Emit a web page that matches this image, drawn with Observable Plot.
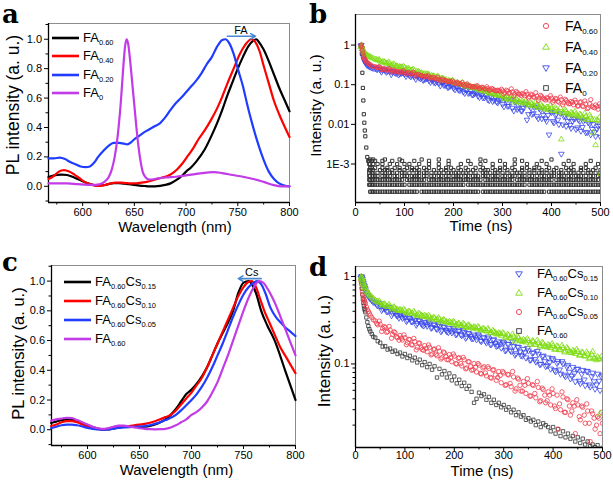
<!DOCTYPE html>
<html><head><meta charset="utf-8">
<script src="https://cdn.jsdelivr.net/npm/d3@7"></script>
<script src="https://cdn.jsdelivr.net/npm/@observablehq/plot@0.6"></script>
<style>
body{margin:0;background:#fff;}
#fig{position:relative;width:613px;height:486px;overflow:hidden;background:#fff;font-family:"Liberation Sans",Arial,sans-serif;color:#000;}
.letter{position:absolute;font-family:"DejaVu Serif",serif;font-weight:bold;font-size:26px;line-height:1.1;}
.item{position:absolute;height:20px;display:flex;align-items:center;white-space:nowrap;}
.lab{font-size:13px;line-height:20px;}
.lab sub{font-size:7.5px;vertical-align:-3px;line-height:0;}
.lab.big{font-size:14px;}
.lab.big sub{font-size:8px;}
.ylab{position:absolute;z-index:20;text-align:right;font-size:11px;line-height:14px;height:14px;white-space:nowrap;color:#000;}
.err{position:absolute;left:0;bottom:0;z-index:30;color:#c00;font-size:9px;}
</style></head>
<body><div id="fig"></div>
<script>
// ================= DATA =================
// Panel a: PL spectra, [wavelength (nm), normalized PL]
const aFA060 = [[567,.063],[575,.078],[580,.08],[585,.077],[590,.065],[595,.05],[600,.035],[605,.02],[610,.01],[615,.005],[620,.008],[625,.015],[630,.022],[635,.022],[640,.018],[645,.015],[650,.01],[655,.005],[660,.002],[665,0],[670,0],[675,.003],[680,.01],[685,.02],[690,.04],[695,.065],[700,.1],[705,.13],[710,.17],[718,.25],[725,.35],[730,.43],[735,.52],[740,.62],[745,.71],[750,.8],[755,.88],[760,.95],[765,.99],[768,1],[770,.985],[775,.93],[780,.85],[785,.76],[790,.67],[795,.59],[800,.51]];
const aFA040 = [[567,.05],[572,.07],[577,.1],[582,.11],[587,.1],[592,.08],[597,.055],[602,.03],[607,.015],[612,.005],[617,.003],[622,.01],[627,.02],[632,.025],[637,.025],[642,.022],[647,.02],[652,.02],[657,.025],[662,.03],[667,.04],[672,.05],[677,.06],[682,.07],[687,.09],[692,.12],[697,.16],[702,.21],[707,.26],[712,.32],[718,.38],[724,.45],[730,.53],[735,.61],[740,.7],[746,.8],[752,.9],[757,.96],[763,1],[767,.98],[771,.92],[775,.82],[780,.7],[785,.58],[790,.49],[795,.41],[800,.335]];
const aFA020 = [[567,.19],[572,.19],[578,.195],[583,.185],[588,.165],[593,.15],[598,.135],[603,.13],[607,.135],[611,.16],[615,.2],[620,.24],[625,.275],[630,.295],[635,.295],[640,.29],[643,.285],[647,.3],[650,.32],[655,.345],[660,.37],[665,.39],[670,.41],[675,.43],[680,.47],[685,.52],[690,.565],[695,.6],[700,.64],[705,.68],[710,.72],[715,.77],[720,.83],[725,.88],[730,.95],[735,.995],[738,1],[742,.97],[746,.9],[750,.8],[755,.68],[759,.56],[763,.45],[767,.35],[771,.26],[775,.18],[780,.1],[785,.05],[790,.02],[795,.006],[800,0]];
const aFA0 = [[567,.02],[575,.02],[585,.02],[595,.015],[605,.01],[612,.01],[617,.015],[621,.03],[625,.06],[628,.11],[631,.2],[634,.35],[637,.58],[639,.78],[641,.95],[642.5,1],[644,.97],[646,.85],[648,.7],[650,.55],[652,.4],[654,.27],[656,.17],[658,.1],[661,.06],[665,.045],[670,.05],[680,.06],[690,.065],[700,.075],[710,.085],[720,.093],[727,.097],[735,.09],[745,.077],[755,.065],[765,.05],[775,.03],[785,.008],[792,0],[800,0]];
const aShift = [{label:"FA", from:740, to:767, level:1.02, labelAt:753, labelLevel:1.037}];

// Panel c: PL spectra, [wavelength (nm), normalized PL]
const cCs015 = [[565,.045],[570,.055],[575,.065],[580,.07],[585,.068],[590,.06],[595,.045],[600,.03],[605,.018],[610,.008],[615,.003],[620,.002],[625,.008],[630,.015],[635,.02],[640,.02],[645,.02],[650,.018],[655,.02],[660,.025],[665,.035],[670,.05],[675,.07],[680,.1],[685,.14],[690,.19],[695,.24],[700,.27],[705,.31],[710,.36],[715,.42],[720,.5],[725,.58],[730,.65],[735,.72],[740,.8],[745,.92],[750,.99],[755,1],[758,.98],[762,.92],[767,.8],[773,.7],[780,.6],[790,.4],[800,.2]];
const cCs010 = [[565,.025],[570,.035],[575,.05],[580,.058],[585,.058],[590,.05],[595,.035],[600,.02],[605,.01],[610,.004],[615,.003],[620,.008],[625,.015],[630,.02],[635,.022],[640,.025],[645,.03],[650,.035],[655,.04],[660,.047],[665,.057],[670,.07],[675,.085],[680,.1],[685,.13],[690,.17],[695,.21],[700,.25],[705,.3],[710,.35],[715,.42],[720,.5],[725,.58],[730,.66],[735,.74],[740,.82],[745,.9],[750,.96],[755,.995],[758,1],[762,.96],[766,.88],[770,.8],[775,.72],[780,.64],[785,.56],[790,.5],[795,.44],[800,.38]];
const cCs005 = [[565,.01],[570,.02],[575,.03],[580,.035],[585,.035],[590,.03],[595,.022],[600,.013],[605,.006],[610,.002],[615,0],[620,.002],[625,.008],[630,.012],[635,.015],[640,.018],[645,.02],[650,.022],[655,.025],[660,.03],[665,.04],[670,.05],[675,.065],[680,.08],[685,.1],[690,.13],[695,.165],[700,.2],[705,.24],[710,.29],[715,.35],[720,.42],[725,.5],[730,.58],[735,.67],[740,.76],[745,.84],[750,.91],[755,.96],[760,.99],[763,1],[767,.98],[771,.92],[776,.82],[781,.76],[786,.72],[790,.69],[795,.66],[800,.63]];
const cFA060 = [[565,.06],[570,.07],[575,.075],[580,.08],[585,.078],[590,.065],[595,.05],[600,.035],[605,.02],[610,.01],[615,.006],[620,.01],[625,.02],[630,.028],[635,.028],[640,.022],[645,.015],[650,.01],[655,.006],[660,.004],[665,.003],[670,.004],[675,.006],[680,.015],[685,.03],[690,.05],[695,.07],[700,.1],[705,.12],[710,.15],[715,.19],[720,.25],[725,.32],[730,.41],[735,.5],[740,.6],[745,.7],[750,.8],[755,.89],[760,.96],[765,1],[769,.99],[773,.95],[777,.9],[781,.84],[785,.77],[790,.68],[795,.59],[800,.5]];
const cShift = [{label:"Cs", from:767, to:745, level:1.017, labelAt:758, labelLevel:1.037}];

// Panels b and d: time-resolved PL, time bins (ns)
const tBins = [11,12,13,14,15,16,17,18,19,20,
 22,24,26,28,30,33,36,
 40,45,50,55,60,65,70,75,80,85,90,95,100,
 105,110,115,120,125,130,135,140,145,150,
 155,160,165,170,175,180,185,190,195,200,
 205,210,215,220,225,230,235,240,245,250,
 255,260,265,270,275,280,285,290,295,300,
 305,310,315,320,325,330,335,340,345,350,
 355,360,365,370,375,380,385,390,395,400,
 405,410,415,420,425,430,435,440,445,450,
 455,460,465,470,475,480,485,490,495,500];
// second set of channels read between the first ones
const tBins2 = [43,48,53,58,63,68,73,78,83,88,
 93,98,103,108,113,118,123,128,133,138,
 143,148,153,158,163,168,173,178,183,188,
 193,198,203,208,213,218,223,228,233,238,
 243,248,253,258,263,268,273,278,283,288,
 293,298,303,308,313,318,323,328,333,338,
 343,348,353,358,363,368,373,378,383,388,
 393,398,403,408,413,418,423,428,433,438,
 443,448,453,458,463,468,473,478,483,488,
 493,498];

// Panel b intensities (a.u.) at tBins
const bFA060 = [.95,1,.88,.74,.63,.55,.5,.46,.43,.41,
 .38,.36,.345,.33,.32,.3,.29,
 .285,.27,.265,.25,.248,.24,.232,.228,.222,.218,.214,.205,.21,
 .2,.195,.19,.186,.18,.178,.17,.165,.163,.155,
 .152,.148,.14,.138,.133,.13,.124,.122,.118,.115,
 .11,.108,.104,.1,.099,.094,.092,.09,.086,.088,
 .082,.085,.078,.08,.074,.077,.07,.073,.068,.07,
 .064,.069,.062,.066,.058,.063,.057,.06,.053,.058,
 .05,.055,.048,.052,.046,.05,.043,.047,.041,.046,
 .04,.044,.036,.042,.035,.04,.033,.038,.031,.036,
 .029,.037,.028,.033,.026,.042,.027,.031,.024,.029];
const bFA040 = [.9,1,.95,.86,.78,.72,.68,.65,.62,.6,
 .57,.55,.53,.51,.5,.48,.46,
 .44,.415,.395,.38,.365,.35,.335,.32,.31,.295,.285,.275,.268,
 .255,.245,.235,.225,.215,.207,.198,.19,.185,.178,
 .17,.164,.156,.15,.144,.138,.133,.127,.122,.118,
 .112,.109,.103,.1,.095,.092,.087,.085,.08,.079,
 .074,.072,.068,.066,.062,.061,.057,.056,.052,.052,
 .048,.047,.044,.044,.04,.041,.037,.038,.034,.035,
 .031,.033,.029,.031,.027,.029,.025,.027,.023,.026,
 .022,.024,.021,.0042,.02,.021,.018,.02,.017,.018,
 .016,.017,.014,.016,.013,.015,.0062,.003,.012,.00056];
const bFA020 = [.95,1,.82,.68,.58,.5,.45,.41,.38,.36,
 .33,.31,.3,.29,.28,.27,.26,
 .255,.245,.24,.232,.228,.22,.215,.21,.2,.206,.19,.2,.185,
 .19,.17,.175,.158,.165,.148,.152,.136,.145,.128,
 .133,.115,.122,.108,.115,.098,.104,.087,.098,.082,
 .09,.074,.082,.066,.075,.061,.07,.056,.064,.052,
 .06,.047,.055,.042,.052,.038,.049,.035,.045,.032,
 .043,.029,.04,.026,.037,.024,.034,.022,.032,.013,
 .029,.018,.027,.016,.025,.014,.023,.012,.0055,.02,
 .011,.018,.01,.0018,.016,.009,.015,.008,.014,.0075,
 .013,.0068,.012,.0062,.011,.0055,.01,.005,.009,.0048];
// Panel b intensities at tBins2
const bFA060b = [.274,.286,.239,.258,.231,.259,.208,.235,.215,.202,
 .211,.224,.188,.205,.184,.206,.166,.186,.169,.157,
 .162,.17,.142,.155,.139,.155,.125,.14,.127,.118,
 .122,.126,.106,.114,.103,.114,.092,.104,.094,.087,
 .091,.095,.08,.087,.079,.089,.072,.081,.074,.07,
 .072,.077,.058,.073,.061,.079,.051,.068,.059,.053,
 .058,.067,.046,.058,.049,.063,.04,.054,.046,.041,
 .046,.053,.036,.045,.038,.049,.031,.043,.036,.033,
 .036,.041,.029,.036,.029,.039,.025,.033,.029,.026,
 .028,.033];
const bFA040b = [.425,.431,.363,.382,.342,.372,.301,.331,.296,.276,
 .279,.29,.244,.255,.228,.246,.199,.216,.193,.179,
 .18,.184,.157,.166,.15,.164,.132,.145,.13,.122,
 .124,.128,.108,.114,.103,.112,.091,.101,.09,.084,
 .085,.087,.072,.076,.068,.074,.06,.065,.059,.054,
 .055,.057,.044,.051,.042,.052,.036,.044,.037,.034,
 .036,.04,.03,.035,.029,.037,.026,.032,.027,.024,
 .027,.03,.022,.026,.021,.026,.019,.023,.019,.017,
 .019,.021,.016,.018,.015,.019,.013,.017,.013,.013,
 .013,.015];
const bFA020b = [.247,.271,.21,.244,.208,.251,.181,.221,.192,.177,
 .193,.212,.163,.188,.159,.19,.138,.166,.143,.13,
 .139,.15,.115,.131,.111,.131,.094,.113,.096,.086,
 .092,.099,.075,.085,.072,.085,.061,.073,.062,.056,
 .059,.064,.048,.055,.047,.055,.04,.048,.041,.037,
 .04,.043,.028,.04,.029,.043,.022,.036,.026,.022,
 .026,.033,.018,.026,.019,.028,.014,.023,.017,.014,
 .017,.021,.012,.017,.013,.019,.0098,.016,.012,.0096,
 .012,.014,.0083,.012,.0085,.013,.0063,.0104,.0076,.0064,
 .0077,.0098];
// FA0: fast head (first 13 bins), then photon-count floor rows (bins 13..109)
const bFA0head = [.9,1,.6,.2,.083,.04,.018,.011,.007,.005,.0026,.0015,.0012];
const bFA0floorLevels = [2e-4,3e-4,4e-4,5e-4,6e-4,7e-4,8e-4,1e-3,1.2e-3,1.3e-3];
const bFA0floorRows = [
 ["0111111111","1111111111","1101111111","1111111111","1111111011","1111111111","1111111111","1111011111","1111111111","1111111"],
 ["1111111111","1111111011","1111111111","1111111111","1011111111","1111111111","1111110111","1111111111","1111111111","1111111"],
 ["1111111111","1111110111","1111101111","1111111111","1111111101","1111111111","1011111111","1111111011","1111111111","1111110"],
 ["1101110111","1011011101","1110110110","1101101111","0110111011","1011101101","1101110110","1011011101","1101101110","1011011"],
 ["1011010110","1101011010","0110110101","1010110110","1101010011","0101101010","1011010101","0110101101","1010110101","0110101"],
 ["1101001011","0100101001","1010010010","0101001001","0010100101","1001010010","0100100101","0010100100","1001010010","0101001"],
 ["0110100101","0010100101","0100101000","1001010010","0100010010","0010010100","1000101001","0100010010","0010100010","1000100"],
 ["1101010100","1001001010","0010001000","1000100001","0001000100","0010000100","0100001000","1000100000","0100010000","1000010"],
 ["1010100100","0100010000","1000001000","0000100000","0010000001","0000010000","0000100000","0010000000","0001000000","0010000"],
 ["0101000010","0000100000","0001000000","1000000000","0000000100","0000000000","0100000000","0000001000","0000000000","0000000"]];

// Panel d intensities (a.u.) at tBins
const dCs015 = [.96,1,.97,.93,.88,.84,.8,.77,.74,.71,
 .66,.62,.6,.57,.56,.53,.51,
 .5,.465,.46,.43,.425,.4,.41,.38,.385,.355,.365,.335,.345,
 .318,.33,.305,.318,.292,.31,.28,.3,.272,.29,
 .262,.28,.25,.27,.243,.262,.235,.255,.228,.245,
 .22,.24,.212,.23,.205,.222,.196,.215,.19,.21,
 .182,.2,.175,.195,.168,.19,.16,.18,.153,.175,
 .145,.168,.14,.16,.132,.155,.125,.148,.118,.142,
 .112,.135,.106,.13,.1,.124,.094,.118,.088,.112,
 .082,.107,.077,.101,.072,.097,.068,.092,.063,.088,
 .06,.085,.057,.082,.055,.079,.052,.077,.05,.075];
const dCs010 = [.95,1,.96,.92,.87,.83,.8,.77,.75,.73,
 .69,.66,.64,.62,.6,.58,.56,
 .535,.51,.5,.48,.475,.455,.452,.435,.432,.418,.418,.402,.405,
 .39,.392,.378,.38,.365,.37,.352,.358,.342,.345,
 .332,.335,.32,.325,.31,.315,.3,.305,.29,.296,
 .282,.287,.274,.28,.266,.272,.258,.265,.25,.258,
 .244,.25,.236,.242,.228,.234,.22,.226,.211,.22,
 .205,.212,.198,.205,.191,.198,.184,.19,.177,.185,
 .172,.18,.167,.175,.162,.17,.158,.165,.153,.16,
 .148,.156,.144,.152,.14,.147,.135,.143,.131,.138,
 .127,.134,.122,.13,.118,.138,.114,.12,.027,.113];
const dCs005 = [.9,.82,.74,.67,.62,.58,.55,.53,.51,.49,
 .45,.42,.4,.38,.36,.34,.32,
 .31,.28,.285,.255,.262,.235,.245,.218,.228,.2,.212,.188,.2,
 .175,.19,.165,.18,.155,.172,.146,.162,.138,.155,
 .13,.148,.124,.14,.118,.134,.112,.128,.106,.123,
 .1,.118,.095,.112,.09,.106,.085,.101,.081,.097,
 .077,.093,.073,.089,.069,.086,.065,.082,.061,.079,
 .058,.075,.055,.071,.052,.067,.049,.063,.046,.06,
 .043,.057,.041,.054,.038,.051,.036,.048,.034,.046,
 .031,.018,.03,.042,.028,.039,.026,.036,.016,.034,
 .023,.032,.021,.029,.013,.027,.018,.025,.016,.021];
const dFA060 = [1,.86,.72,.62,.55,.5,.46,.43,.41,.39,
 .34,.3,.27,.25,.235,.22,.205,
 .2,.182,.175,.158,.16,.146,.15,.138,.142,.13,.135,.122,.13,
 .117,.124,.11,.118,.104,.112,.097,.105,.092,.1,
 .086,.094,.07,.088,.076,.083,.07,.078,.065,.072,
 .06,.066,.056,.061,.052,.056,.048,.036,.04,.047,
 .043,.045,.039,.042,.036,.039,.034,.036,.032,.034,
 .03,.032,.028,.03,.026,.028,.025,.026,.023,.024,
 .022,.023,.02,.022,.019,.021,.02,.019,.017,.019,
 .016,.018,.015,.017,.0145,.016,.014,.015,.013,.0145,
 .0125,.014,.012,.013,.0115,.012,.0112,.0118,.0105,.011];
// Panel d intensities at tBins2
const dCs015b = [.475,.495,.411,.441,.398,.446,.358,.399,.361,.337,
 .349,.366,.308,.335,.305,.343,.279,.317,.291,.274,
 .287,.305,.258,.28,.256,.288,.235,.267,.244,.23,
 .241,.256,.217,.236,.217,.244,.198,.225,.207,.195,
 .204,.217,.184,.2,.182,.205,.167,.188,.172,.162,
 .169,.179,.142,.169,.145,.179,.127,.157,.138,.124,
 .135,.151,.111,.133,.113,.14,.099,.122,.107,.096,
 .104,.116,.085,.102,.086,.107,.075,.093,.081,.073,
 .078,.087,.064,.077,.066,.083,.058,.072,.063,.058,
 .064,.072];
const dCs010b = [.519,.522,.468,.485,.455,.477,.422,.447,.421,.405,
 .41,.419,.38,.398,.376,.396,.353,.378,.358,.346,
 .35,.357,.324,.338,.319,.335,.301,.321,.304,.293,
 .297,.304,.276,.29,.275,.291,.259,.278,.264,.255,
 .26,.266,.243,.254,.24,.253,.225,.24,.227,.218,
 .221,.226,.198,.217,.198,.218,.182,.205,.187,.179,
 .185,.194,.166,.183,.167,.186,.156,.176,.162,.155,
 .161,.17,.146,.16,.146,.162,.136,.153,.14,.134,
 .138,.146,.125,.136,.124,.136,.114,.128,.117,.111,
 .115,.121];
const dCs005b = [.29,.309,.235,.267,.23,.269,.197,.233,.204,.187,
 .197,.215,.166,.191,.166,.196,.145,.174,.153,.143,
 .151,.165,.127,.147,.129,.153,.114,.137,.121,.112,
 .119,.13,.101,.116,.101,.119,.088,.106,.093,.086,
 .092,.101,.078,.09,.079,.093,.07,.085,.075,.07,
 .074,.082,.057,.076,.06,.082,.049,.069,.057,.049,
 .057,.068,.043,.058,.046,.063,.037,.053,.044,.038,
 .044,.052,.033,.044,.035,.048,.028,.04,.033,.029,
 .033,.039,.025,.033,.026,.035,.021,.029,.024,.02,
 .024,.028];

// Axis ticks and labels
const wlTicks = [600,650,700,750,800], wlTickLabels = ["600","650","700","750","800"], wlMinor = [575,625,675,725,775];
const plTicks = [0,.2,.4,.6,.8,1], plTickLabels = ["0.0","0.2","0.4","0.6","0.8","1.0"], plMinor = [-.1,.1,.3,.5,.7,.9,1.1];
const tTicks = [0,100,200,300,400,500], tTickLabels = ["0","100","200","300","400","500"], tMinor = [50,150,250,350,450];
const bYTicks = [1,.1,.01,.001], bYTickLabels = ["1","0.1","0.01","1E-3"];
const dYTicks = [1,.1], dYTickLabels = ["1","0.1"], dYMinor = [.02,.03,.04,.05,.06,.07,.08,.09,.2,.3,.4,.5,.6,.7,.8,.9];

// Legends
const aLegend = [[["FA","0.60"]],[["FA","0.40"]],[["FA","0.20"]],[["FA","0"]]];
const bLegend = [[["FA","0.60"]],[["FA","0.40"]],[["FA","0.20"]],[["FA","0"]]];
const cLegend = [[["FA","0.60"],["Cs","0.15"]],[["FA","0.60"],["Cs","0.10"]],[["FA","0.60"],["Cs","0.05"]],[["FA","0.60"]]];
const dLegend = [[["FA","0.60"],["Cs","0.15"]],[["FA","0.60"],["Cs","0.10"]],[["FA","0.60"],["Cs","0.05"]],[["FA","0.60"]]];

// ================= DRAWING =================
const fig = document.getElementById("fig");
const BLACK="#000000", RED="#ff0000", BLUE="#1f3cff", MAG="#c23be6";
const DRED="#f03a4a", DGRN="#7ddc10", DBLU="#3848e8", DBLK="#333333";
const ARROW="#4a88d0";
const style = {fontFamily:"'Liberation Sans', Arial, sans-serif", fontSize:"11px", color:"#000", background:"transparent", overflow:"visible"};

function frameAxes(o){
  const xl = new Map(o.xTicks.map((t,i)=>[t,o.xLabels[i]]));
  const yRows = o.yTicks.map((t,i)=>({v:t, label:o.yLabels[i], x0:o.xDomain[0]}));
  const m = [
    Plot.frame({stroke:"#8c8c8c", strokeWidth:1}),
    Plot.axisX(o.xMinor,{tickSize:2.5, tickFormat:()=>"", label:null}),
    Plot.axisX(o.xTicks,{tickSize:4, tickPadding:o.xPad, tickFormat:d=>xl.get(d), label:null}),
    Plot.axisY(o.yTicks,{tickSize:4, tickFormat:()=>"", label:null}),
    Plot.ruleX([o.xDomain[0]],{stroke:"#000", strokeWidth:1.3}),
    Plot.ruleY([o.yDomain[0]],{stroke:"#000", strokeWidth:1.3}),
    Plot.text([o.xTitle],{frameAnchor:"bottom", textAnchor:"middle", lineAnchor:"middle", dx:o.xt[0], dy:o.xt[1], fontSize:15, text:d=>d}),
    Plot.text([o.yTitle],{frameAnchor:"left", rotate:-90, textAnchor:"middle", lineAnchor:"middle", dx:o.yt[0], dy:o.yt[1], fontSize:o.yt[2], text:d=>d})
  ];
  if (!o.htmlY) m.push(Plot.text(yRows,{x:"x0", y:"v", textAnchor:"end", lineAnchor:"middle", dx:-6, fontSize:11, fill:"#000", text:"label"}));
  if (o.yMinor) m.splice(3,0,Plot.axisY(o.yMinor,{tickSize:2.5, tickFormat:()=>"", label:null}));
  return m;
}
function place(svg,left,top){svg.style.position="absolute";svg.style.left=left+"px";svg.style.top=top+"px";fig.appendChild(svg);return svg;}
// y tick labels positioned with the plot's own y scale
function yLabelsFromScale(svg,left,top,marginLeft,ticks,labels){
  try {
    const y = svg.scale("y");
    ticks.forEach((t,i)=>{
      let py = y.apply ? y.apply(t) : NaN;
      if (!Number.isFinite(py)) { const [d0,d1]=y.domain, [r0,r1]=y.range; py = r0 + (t-d0)/(d1-d0)*(r1-r0); }
      const d=document.createElement("div"); d.className="ylab"; d.textContent=labels[i];
      d.style.left=left+"px"; d.style.width=(marginLeft-6)+"px"; d.style.top=(top+py-7)+"px";
      fig.appendChild(d);
    });
  } catch(e) {
    const d=document.createElement("div"); d.className="err"; d.textContent="ylab error: "+e.message; fig.appendChild(d);
  }
}
const pairs = (arr) => arr.map(([w,v]) => ({w, v}));
const onBins = (vals, bins) => vals.map((v,i) => ({t:bins[i], v})).filter(d => d.t !== undefined);
const both = (a, b) => onBins(a, tBins).concat(onBins(b, tBins2));

// ---- Panel a
{
  const xDomain=[567,800], yDomain=[-0.11,1.107];
  const series=[[aFA060,BLACK],[aFA040,RED],[aFA020,BLUE],[aFA0,MAG]];
  const svg = place(Plot.plot({width:306,height:243,marginLeft:48,marginRight:17,marginTop:23,marginBottom:41,style,
    x:{domain:xDomain,axis:null}, y:{domain:yDomain,axis:null},
    marks:[
      ...frameAxes({xTicks:wlTicks,xLabels:wlTickLabels,xMinor:wlMinor,xPad:2,yTicks:plTicks,yLabels:plTickLabels,yMinor:plMinor,xDomain,yDomain,htmlY:true,
        xTitle:"Wavelength (nm)",xt:[6,25],yTitle:"PL intensity (a. u.)",yt:[-35,-8,17.5]}),
      ...series.map(([d,c])=>Plot.line(pairs(d),{x:"w",y:"v",stroke:c,strokeWidth:2.2,curve:"monotone-x"})),
      Plot.arrow(aShift,{x1:"from",x2:"to",y1:"level",y2:"level",stroke:ARROW,strokeWidth:1.6,headLength:5}),
      Plot.text(aShift,{x:"labelAt",y:"labelLevel",text:"label",fontSize:11,lineAnchor:"bottom"})
    ]}),0,0);
  yLabelsFromScale(svg,0,0,48,plTicks,plTickLabels);
}
// ---- Panel c
{
  const xDomain=[565.4,800], yDomain=[-0.106,1.105];
  const series=[[cCs015,BLACK],[cCs010,RED],[cCs005,BLUE],[cFA060,MAG]];
  const svg = place(Plot.plot({width:306,height:243,marginLeft:51,marginRight:11,marginTop:22,marginBottom:41,style,
    x:{domain:xDomain,axis:null}, y:{domain:yDomain,axis:null},
    marks:[
      ...frameAxes({xTicks:wlTicks,xLabels:wlTickLabels,xMinor:wlMinor,xPad:2,yTicks:plTicks,yLabels:plTickLabels,yMinor:plMinor,xDomain,yDomain,htmlY:true,
        xTitle:"Wavelength (nm)",xt:[3,25],yTitle:"PL intensity (a. u.)",yt:[-33,-2,16.5]}),
      ...series.map(([d,c])=>Plot.line(pairs(d),{x:"w",y:"v",stroke:c,strokeWidth:2.2,curve:"monotone-x"})),
      Plot.arrow(cShift,{x1:"from",x2:"to",y1:"level",y2:"level",stroke:ARROW,strokeWidth:1.6,headLength:5}),
      Plot.text(cShift,{x:"labelAt",y:"labelLevel",text:"label",fontSize:11,lineAnchor:"bottom"})
    ]}),0,243);
  yLabelsFromScale(svg,0,243,51,plTicks,plTickLabels);
}
// ---- Panel b
{
  const xDomain=[0,500], yDomain=[1.07e-4,5.9];
  const black = bFA0head.map((v,i)=>({t:tBins[i],v}));
  bFA0floorRows.forEach((chunks,k)=>chunks.join("").split("").forEach((c,j)=>{ if(c==="1" && tBins[13+j]!==undefined) black.push({t:tBins[13+j], v:bFA0floorLevels[k]}); }));
  const dotOpt = (c,sym,rot)=>({x:"t",y:"v",stroke:c,fill:"none",strokeWidth:0.8,r:2.1,symbol:sym,rotate:rot||0,clip:true});
  place(Plot.plot({width:307,height:243,marginLeft:49,marginRight:13,marginTop:14,marginBottom:41,style,
    x:{domain:xDomain,axis:null}, y:{type:"log",domain:yDomain,axis:null},
    marks:[
      ...frameAxes({xTicks:tTicks,xLabels:tTickLabels,xMinor:tMinor,xPad:2,yTicks:bYTicks,yLabels:bYTickLabels,xDomain,yDomain,
        xTitle:"Time (ns)",xt:[3,24],yTitle:"Intensity (a. u.)",yt:[-39,-3,15.5]}),
      Plot.dot(black,{...dotOpt(DBLK,"square"),r:1.8,strokeWidth:1}),
      Plot.dot(both(bFA020,bFA020b),dotOpt(DBLU,"triangle",180)),
      Plot.dot(both(bFA040,bFA040b),dotOpt(DGRN,"triangle")),
      Plot.dot(both(bFA060,bFA060b),dotOpt(DRED,"circle"))
    ]}),306,0);
}
// ---- Panel d
{
  const xDomain=[0,500], yDomain=[0.0111,1.30];
  const dotOpt = (c,sym,rot)=>({x:"t",y:"v",stroke:c,fill:"none",strokeWidth:0.8,r:2.2,symbol:sym,rotate:rot||0,clip:true});
  place(Plot.plot({width:307,height:243,marginLeft:49,marginRight:11,marginTop:23,marginBottom:39,style,
    x:{domain:xDomain,axis:null}, y:{type:"log",domain:yDomain,axis:null},
    marks:[
      ...frameAxes({xTicks:tTicks,xLabels:tTickLabels,xMinor:tMinor,xPad:0,yTicks:dYTicks,yLabels:dYTickLabels,yMinor:dYMinor,xDomain,yDomain,
        xTitle:"Time (ns)",xt:[3,24],yTitle:"Intensity (a. u.)",yt:[-31,-6,17]}),
      Plot.dot(onBins(dFA060,tBins),{...dotOpt(DBLK,"square"),r:1.9}),
      Plot.dot(both(dCs005,dCs005b),dotOpt(DRED,"circle")),
      Plot.dot(both(dCs015,dCs015b),dotOpt(DBLU,"triangle",180)),
      Plot.dot(both(dCs010,dCs010b),dotOpt(DGRN,"triangle"))
    ]}),306,243);
}

// ---- Legends (HTML, with subscripts)
function labelHTML(parts){return parts.map(([m,s])=>`${m}<sub>${s}</sub>`).join("");}
function swatch(kind,color){
  if(kind==="line") return `<svg width="27" height="20"><line x1="0" x2="27" y1="10" y2="10" stroke="${color}" stroke-width="2.6"/></svg>`;
  let shape="";
  if(kind==="circle") shape=`<circle cx="6" cy="10" r="2.6"/>`;
  if(kind==="up") shape=`<polygon points="6,6.6 9.3,12.2 2.7,12.2"/>`;
  if(kind==="down") shape=`<polygon points="6,13.4 9.3,7.8 2.7,7.8"/>`;
  if(kind==="square") shape=`<rect x="3.7" y="7.7" width="4.6" height="4.6"/>`;
  return `<svg width="12" height="20"><g fill="none" stroke="${color}" stroke-width="0.9">${shape}</g></svg>`;
}
function legend(items, kinds, colors, left, centers, textLeft, cls){
  items.forEach((parts,i)=>{
    const div=document.createElement("div");
    div.className="item"; div.style.left=left+"px"; div.style.top=(centers[i]-10)+"px";
    const sw = swatch(kinds[i],colors[i]);
    const swW = kinds[i]==="line"?27:12;
    div.innerHTML = sw + `<span class="lab ${cls||""}" style="margin-left:${textLeft-left-swW}px">${labelHTML(parts)}</span>`;
    fig.appendChild(div);
  });
}
legend(aLegend,["line","line","line","line"],[BLACK,RED,BLUE,MAG],52,[37.5,56,74.5,93],83);
legend(cLegend,["line","line","line","line"],[BLACK,RED,BLUE,MAG],64,[282,301,320,339],95);
legend(bLegend,["circle","up","down","square"],[DRED,DGRN,DBLU,DBLK],540,[26,47,67.5,87.5],565,"big");
legend(dLegend,["down","up","circle","square"],[DBLU,DGRN,DRED,DBLK],513,[273.5,293,312,331],537);

// ---- Panel letters
[["a",2,0],["b",309,0],["c",2,248],["d",309,253]].forEach(([t,x,y])=>{
  const s=document.createElement("div"); s.className="letter"; s.textContent=t; s.style.left=x+"px"; s.style.top=y+"px"; fig.appendChild(s);
});
</script></body></html>
